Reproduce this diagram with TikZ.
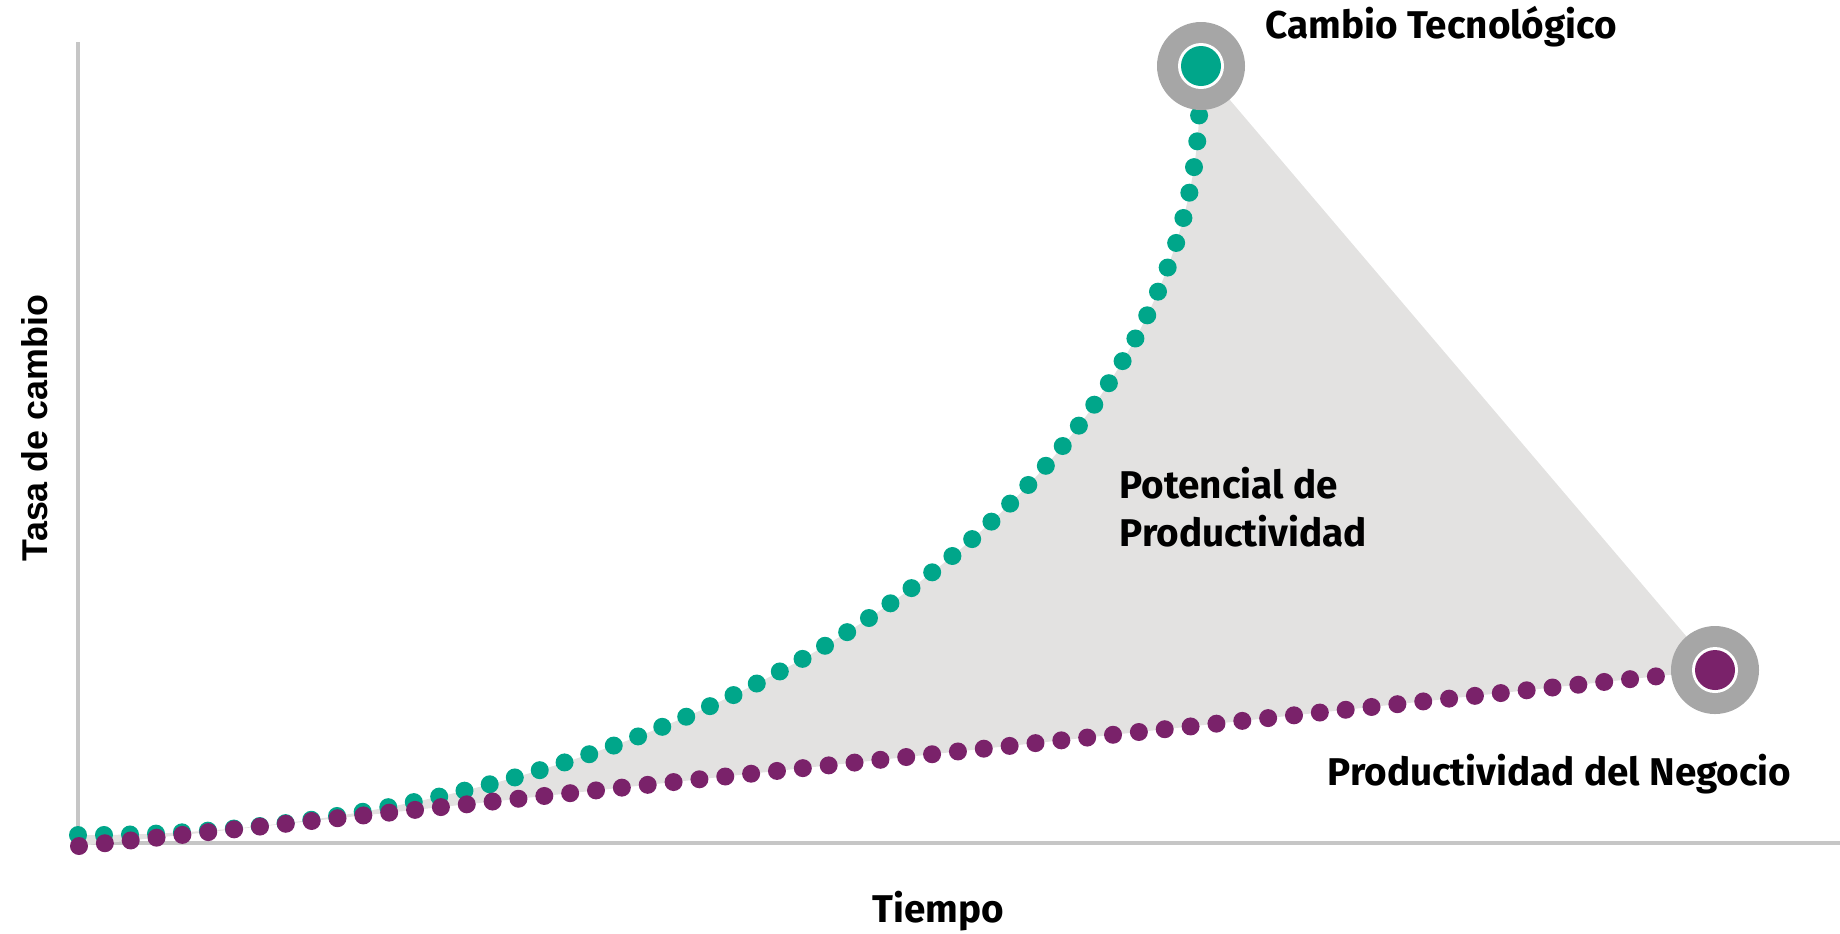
\documentclass[tikz,border=0pt]{standalone}
\usepackage{fontspec}
\setmainfont{Fira Sans}
\newfontfamily\ejefont{Liberation Sans}
\definecolor{tecno}{RGB}{0,166,138}
\definecolor{negocio}{RGB}{122,34,106}
\definecolor{anillo}{RGB}{166,166,166}
\definecolor{potencial}{RGB}{227,226,225}
\definecolor{eje}{RGB}{198,198,198}
\tikzset{
	puntos/.style={line width=1.8mm,line cap=round,dash pattern=on 0pt off 2.6mm},
	etiqueta/.style={font=\fontsize{11}{13.4}\selectfont\bfseries,inner sep=0pt}
}
\begin{document}
\begin{tikzpicture}[x=0.1mm,y=-0.1mm,line join=round]
			\useasboundingbox (0,0) rectangle (1840,933);
			\coordinate (o1) at (78,835);
			\coordinate (o2) at (79,846);
			\coordinate (tec) at (1201,66);
			\coordinate (neg) at (1715,670);
			\draw[eje,line width=0.35mm]
			(78,42)--(78,843)--(1840,843)
			;
			\fill[potencial]
			(o1) .. controls (700,838) and (1180,500) .. (1199,118) -- (tec) -- (neg) -- (o2) -- cycle
			;
			\draw[puntos,tecno]
			(o1) .. controls (700,838) and (1180,500) .. (1199,118) -- (tec)
			;
			\draw[puntos,negocio]
			(o2) -- (neg)
			;
			\fill[anillo]
			(tec) circle (44)
			(neg) circle (44)
			;
			\fill[white]
			(tec) circle (23)
			(neg) circle (23)
			;
			\fill[tecno] (tec) circle (20);
			\fill[negocio] (neg) circle (20);
			\node[etiqueta,anchor=base west] (cambio) at (1265,38) {Cambio Tecnológico};
			\node[etiqueta,anchor=base west,align=left] (potencialtxt) at (1119,546) {Potencial de\\Productividad};
			\node[etiqueta,anchor=base west] (productividad) at (1327,785) {Productividad del Negocio};
			\node[etiqueta,anchor=base] (tiempo) at (938,922) {Tiempo};
			\node[etiqueta,font=\ejefont\fontsize{10.2}{12}\selectfont\bfseries,rotate=90,anchor=base] (tasa) at (47,428) {Tasa de cambio};
		\end{tikzpicture}
\end{document}
